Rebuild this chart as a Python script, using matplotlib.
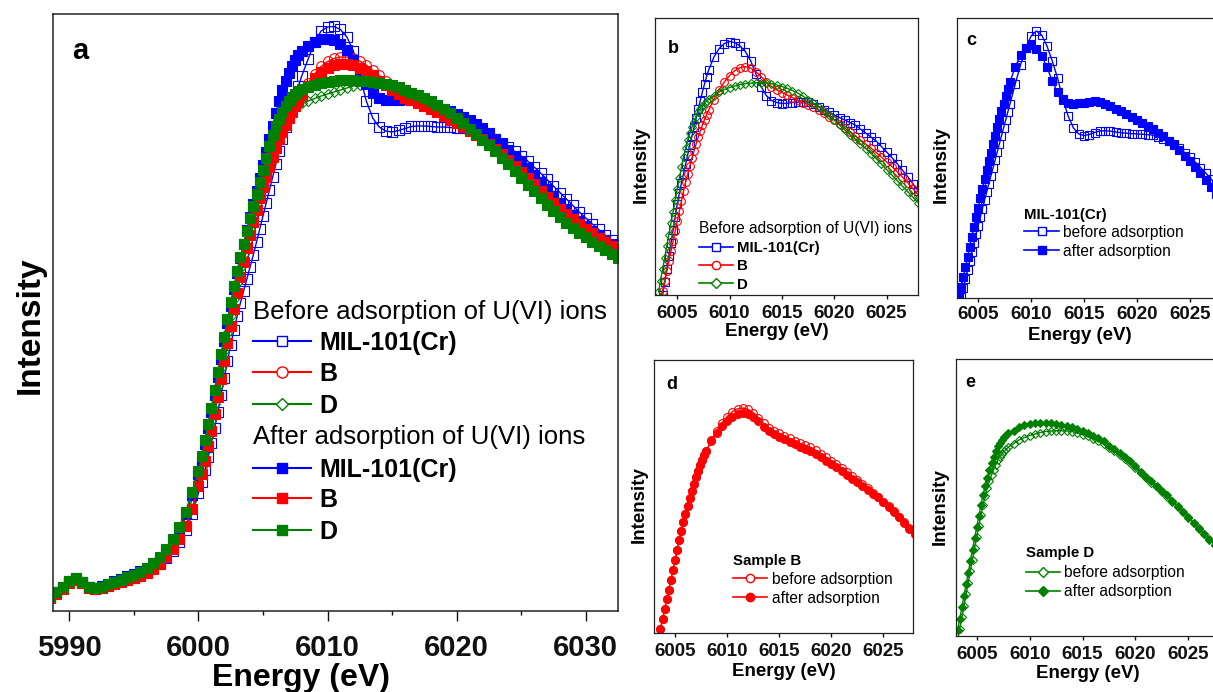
import numpy as np
import matplotlib
matplotlib.use("Agg")
import matplotlib.pyplot as plt
from matplotlib.lines import Line2D
from matplotlib.ticker import MultipleLocator

plt.rcParams['font.family'] = ['Liberation Sans', 'DejaVu Sans']

# ---------------- energy grids (eV) ----------------
energy_a = np.concatenate([np.linspace(5988.5, 5999.5, 23),
                           np.linspace(6000.0, 6008.0, 33),
                           np.linspace(6008.5, 6033.0, 50)])
energy_zoom = np.concatenate([np.linspace(6003.2, 6008.0, 25),
                              np.linspace(6008.5, 6028.0, 40)])

# ---------------- panel a: Cr K-edge XANES (arb. units) ----------------
mil_before_a = [0.14, 0.18, 0.23, 0.29, 0.325, 0.29, 0.24, 0.225, 0.235, 0.255, 0.275, 0.295,
                0.315, 0.335, 0.36, 0.39, 0.43, 0.475, 0.53, 0.60, 0.69, 0.81, 0.97,
                1.18, 1.29, 1.41, 1.54, 1.68, 1.83, 1.99, 2.16, 2.33, 2.50, 2.66, 2.81, 2.95,
                3.08, 3.20, 3.32, 3.44, 3.56, 3.69, 3.82, 3.95, 4.08, 4.21, 4.34, 4.47, 4.60,
                4.72, 4.84, 4.95, 5.05, 5.15, 5.25, 5.35,
                5.52, 5.69, 5.80, 5.84, 5.845, 5.815, 5.74, 5.60, 5.36, 5.10, 4.93, 4.84,
                4.80, 4.79, 4.805, 4.825, 4.845, 4.85, 4.85, 4.845, 4.84, 4.84, 4.835, 4.83,
                4.825, 4.815, 4.80, 4.78, 4.75, 4.72, 4.68, 4.64, 4.595, 4.55, 4.50, 4.44,
                4.38, 4.315, 4.25, 4.185, 4.12, 4.055, 3.99, 3.93, 3.87, 3.815, 3.76, 3.705,
                3.655, 3.605]
b_before_a = [0.13, 0.17, 0.22, 0.28, 0.315, 0.285, 0.235, 0.22, 0.23, 0.25, 0.27, 0.29,
              0.31, 0.33, 0.355, 0.385, 0.425, 0.475, 0.54, 0.62, 0.72, 0.85, 1.02,
              1.25, 1.37, 1.50, 1.65, 1.80, 1.97, 2.14, 2.32, 2.50, 2.68, 2.85, 3.02, 3.18,
              3.34, 3.49, 3.63, 3.76, 3.89, 4.01, 4.13, 4.24, 4.34, 4.44, 4.535, 4.63,
              4.715, 4.79, 4.86, 4.925, 4.985, 5.055, 5.115, 5.175,
              5.28, 5.37, 5.445, 5.495, 5.525, 5.54, 5.54, 5.525, 5.50, 5.46, 5.405, 5.355,
              5.305, 5.26, 5.22, 5.185, 5.145, 5.115, 5.085, 5.055, 5.025, 4.99, 4.94,
              4.905, 4.865, 4.825, 4.775, 4.735, 4.69, 4.64, 4.575, 4.51, 4.45, 4.39, 4.33,
              4.265, 4.20, 4.14, 4.08, 4.02, 3.965, 3.915, 3.865, 3.82, 3.775, 3.73, 3.69,
              3.65, 3.61, 3.57]
d_before_a = [0.15, 0.19, 0.24, 0.30, 0.33, 0.29, 0.24, 0.23, 0.245, 0.27, 0.29, 0.315,
              0.34, 0.36, 0.39, 0.42, 0.465, 0.52, 0.60, 0.70, 0.80, 0.93, 1.11,
              1.30, 1.44, 1.59, 1.74, 1.90, 2.07, 2.25, 2.43, 2.60, 2.78, 2.95, 3.12, 3.28,
              3.43, 3.57, 3.70, 3.82, 3.94, 4.06, 4.18, 4.29, 4.40, 4.51, 4.61, 4.70, 4.78,
              4.85, 4.91, 4.96, 5.00, 5.03, 5.055, 5.075,
              5.10, 5.125, 5.15, 5.17, 5.19, 5.21, 5.23, 5.25, 5.265, 5.28, 5.285,
              5.28, 5.27, 5.255, 5.235, 5.21, 5.185, 5.155, 5.125, 5.095, 5.06, 5.02, 4.975,
              4.925, 4.875, 4.82, 4.765, 4.71, 4.655, 4.595, 4.53, 4.465, 4.40, 4.33, 4.26,
              4.195, 4.13, 4.06, 3.995, 3.935, 3.88, 3.83, 3.78, 3.735, 3.69, 3.65, 3.61,
              3.57, 3.53, 3.49]
mil_after_a = [0.15, 0.19, 0.24, 0.30, 0.33, 0.29, 0.24, 0.23, 0.25, 0.275, 0.30, 0.325,
               0.35, 0.375, 0.40, 0.435, 0.48, 0.535, 0.61, 0.71, 0.82, 0.97, 1.16,
               1.37, 1.51, 1.67, 1.83, 1.99, 2.16, 2.34, 2.52, 2.70, 2.88, 3.05, 3.22, 3.38,
               3.53, 3.67, 3.81, 3.94, 4.07, 4.20, 4.33, 4.46, 4.59, 4.72, 4.85, 4.98, 5.10,
               5.21, 5.30, 5.38, 5.45, 5.51, 5.56, 5.60,
               5.65, 5.69, 5.72, 5.725, 5.71, 5.67, 5.61, 5.51, 5.39, 5.27, 5.18, 5.13, 5.11,
               5.105, 5.11, 5.115, 5.11, 5.095, 5.075, 5.055, 5.035, 5.015, 4.995, 4.97,
               4.94, 4.905, 4.87, 4.825, 4.775, 4.72, 4.665, 4.61, 4.55, 4.49, 4.425, 4.36,
               4.29, 4.22, 4.15, 4.08, 4.015, 3.955, 3.90, 3.85, 3.80, 3.755, 3.71, 3.665,
               3.62, 3.58]
b_after_a = [0.13, 0.17, 0.22, 0.28, 0.315, 0.285, 0.235, 0.22, 0.23, 0.25, 0.27, 0.29,
             0.31, 0.33, 0.355, 0.385, 0.425, 0.475, 0.54, 0.62, 0.72, 0.85, 1.02,
             1.25, 1.37, 1.50, 1.65, 1.80, 1.97, 2.14, 2.32, 2.50, 2.68, 2.85, 3.02, 3.18,
             3.34, 3.49, 3.63, 3.76, 3.89, 4.01, 4.13, 4.24, 4.34, 4.44, 4.535, 4.63,
             4.715, 4.79, 4.86, 4.925, 4.985, 5.045, 5.10, 5.155,
             5.25, 5.33, 5.395, 5.435, 5.46, 5.475, 5.475, 5.46, 5.435, 5.40, 5.355, 5.305,
             5.255, 5.21, 5.17, 5.135, 5.105, 5.075, 5.045, 5.015, 4.985, 4.95, 4.91,
             4.875, 4.835, 4.795, 4.755, 4.715, 4.67, 4.62, 4.565, 4.51, 4.45, 4.39, 4.33,
             4.265, 4.20, 4.14, 4.08, 4.02, 3.965, 3.915, 3.865, 3.82, 3.775, 3.73, 3.69,
             3.65, 3.61, 3.57]
d_after_a = [0.15, 0.19, 0.24, 0.30, 0.33, 0.29, 0.24, 0.23, 0.245, 0.27, 0.29, 0.315,
             0.34, 0.365, 0.395, 0.43, 0.48, 0.54, 0.62, 0.72, 0.84, 0.99, 1.19,
             1.40, 1.55, 1.71, 1.87, 2.03, 2.21, 2.39, 2.57, 2.74, 2.92, 3.09, 3.25, 3.40,
             3.54, 3.67, 3.80, 3.93, 4.05, 4.17, 4.29, 4.41, 4.53, 4.65, 4.76, 4.85, 4.92,
             4.99, 5.05, 5.10, 5.14, 5.17, 5.195, 5.215,
             5.24, 5.26, 5.275, 5.29, 5.30, 5.31, 5.31, 5.31, 5.305, 5.30, 5.29, 5.28, 5.27,
             5.255, 5.235, 5.21, 5.185, 5.155, 5.125, 5.095, 5.06, 5.02, 4.975, 4.925,
             4.875, 4.82, 4.765, 4.71, 4.655, 4.595, 4.53, 4.465, 4.40, 4.33, 4.26, 4.195,
             4.13, 4.06, 3.995, 3.935, 3.88, 3.83, 3.78, 3.735, 3.69, 3.65, 3.61, 3.57,
             3.53, 3.49]

# ---------------- panels b, d, e: edge region (arb. units) ----------------
mil_before_z = [-0.25, -0.12, 0.00, 0.13, 0.26, 0.39, 0.52, 0.65, 0.78, 0.91, 1.02, 1.12,
                1.215, 1.31, 1.405, 1.50, 1.59, 1.68, 1.77, 1.86, 1.945, 2.03, 2.11, 2.185,
                2.25,
                2.38, 2.465, 2.515, 2.535, 2.525, 2.49, 2.435, 2.345, 2.215, 2.085, 1.995,
                1.945, 1.925, 1.915, 1.917, 1.925, 1.93, 1.933, 1.93, 1.91, 1.885, 1.855,
                1.83, 1.80, 1.775, 1.75, 1.725, 1.70, 1.66, 1.62, 1.58, 1.54, 1.485, 1.43,
                1.375, 1.315, 1.25, 1.185, 1.115, 1.045]
b_before_z = [-0.16, -0.06, 0.04, 0.14, 0.24, 0.34, 0.44, 0.54, 0.64, 0.74, 0.84, 0.94,
              1.04, 1.13, 1.21, 1.29, 1.37, 1.44, 1.51, 1.58, 1.64, 1.70, 1.755, 1.805,
              1.85,
              1.955, 2.05, 2.13, 2.195, 2.245, 2.275, 2.283, 2.27, 2.235, 2.185, 2.13, 2.085,
              2.05, 2.025, 2.00, 1.975, 1.95, 1.925, 1.905, 1.885, 1.855, 1.82, 1.785, 1.75,
              1.71, 1.67, 1.63, 1.59, 1.55, 1.51, 1.47, 1.425, 1.38, 1.33, 1.285, 1.235,
              1.18, 1.125, 1.065, 1.005]
b_after_z = [-0.16, -0.06, 0.04, 0.14, 0.24, 0.34, 0.44, 0.54, 0.64, 0.74, 0.84, 0.94,
             1.04, 1.13, 1.21, 1.29, 1.37, 1.44, 1.51, 1.58, 1.64, 1.70, 1.755, 1.805,
             1.85,
             1.945, 2.03, 2.10, 2.155, 2.195, 2.225, 2.233, 2.22, 2.19, 2.15, 2.095, 2.05,
             2.015, 1.99, 1.965, 1.94, 1.915, 1.89, 1.87, 1.85, 1.82, 1.785, 1.75, 1.715,
             1.685, 1.645, 1.605, 1.565, 1.535, 1.495, 1.455, 1.41, 1.375, 1.325, 1.28,
             1.23, 1.175, 1.12, 1.06, 1.00]
d_before_z = [0.03, 0.145, 0.26, 0.375, 0.49, 0.605, 0.72, 0.835, 0.95, 1.06, 1.17, 1.28,
              1.38, 1.47, 1.55, 1.62, 1.68, 1.735, 1.785, 1.83, 1.865, 1.895, 1.92, 1.94,
              1.96,
              1.995, 2.03, 2.055, 2.075, 2.09, 2.105, 2.115, 2.12, 2.123, 2.123, 2.12, 2.115,
              2.10, 2.085, 2.067, 2.045, 2.02, 1.99, 1.955, 1.92, 1.885, 1.845, 1.80, 1.75,
              1.70, 1.65, 1.605, 1.56, 1.51, 1.465, 1.415, 1.365, 1.31, 1.255, 1.20, 1.145,
              1.09, 1.035, 0.98, 0.925]
d_after_z = [0.13, 0.245, 0.36, 0.475, 0.59, 0.705, 0.82, 0.935, 1.05, 1.16, 1.27, 1.38,
             1.48, 1.57, 1.65, 1.73, 1.80, 1.865, 1.925, 1.97, 2.005, 2.035, 2.06, 2.08,
             2.10,
             2.125, 2.16, 2.185, 2.195, 2.20, 2.205, 2.205, 2.20, 2.193, 2.183, 2.17, 2.16,
             2.14, 2.12, 2.097, 2.075, 2.05, 2.02, 1.975, 1.94, 1.905, 1.865, 1.82, 1.77,
             1.715, 1.665, 1.62, 1.575, 1.525, 1.48, 1.42, 1.37, 1.315, 1.26, 1.205, 1.15,
             1.095, 1.04, 0.985, 0.93]

# ---------------- panel c: MIL-101(Cr) before / after ----------------
mil_before_c = [-0.08, 0.01, 0.10, 0.19, 0.28, 0.37, 0.46, 0.55, 0.64, 0.725, 0.81, 0.895,
                0.98, 1.06, 1.14, 1.22, 1.30, 1.38, 1.46, 1.54, 1.62, 1.70, 1.78, 1.86, 1.94,
                2.14, 2.33, 2.50, 2.62, 2.67, 2.63, 2.52, 2.37, 2.20, 1.99, 1.82, 1.70, 1.64,
                1.625, 1.635, 1.655, 1.67, 1.673, 1.668, 1.66, 1.653, 1.648, 1.644, 1.641,
                1.638, 1.634, 1.628, 1.615, 1.595, 1.57, 1.54, 1.50, 1.455, 1.41, 1.36,
                1.305, 1.25, 1.19, 1.13, 1.07]
mil_after_c = [0.02, 0.115, 0.21, 0.31, 0.41, 0.51, 0.61, 0.71, 0.81, 0.905, 1.00, 1.095,
               1.19, 1.28, 1.37, 1.455, 1.54, 1.625, 1.71, 1.79, 1.87, 1.945, 2.02, 2.09,
               2.16,
               2.31, 2.43, 2.505, 2.53, 2.495, 2.42, 2.31, 2.17, 2.055, 1.985, 1.955, 1.945,
               1.947, 1.955, 1.963, 1.968, 1.963, 1.945, 1.92, 1.895, 1.87, 1.84, 1.81, 1.78,
               1.75, 1.72, 1.69, 1.655, 1.62, 1.575, 1.53, 1.48, 1.425, 1.37, 1.31, 1.25,
               1.185, 1.115, 1.045, 0.975]

ticks_a = [5990, 6000, 6010, 6020, 6030]
ticks_zoom = [6005, 6010, 6015, 6020, 6025]

BLUE, RED, GREEN = '#0000ff', '#ff0000', '#008000'

W, H = 1213, 692
fig = plt.figure(figsize=(W / 100, H / 100), dpi=100)


def fx(x):
    return x / W


def fy(y):
    return (H - y) / H


def axes_px(left, top, right, bottom):
    return fig.add_axes([left / W, (H - bottom) / H, (right - left) / W, (bottom - top) / H])


def style_axes(ax, xlim, ylim, ticks, fs, tick_len, pad, minor=None, spine_lw=1.0):
    ax.set_xlim(*xlim)
    ax.set_ylim(*ylim)
    ax.set_xticks(ticks)
    ax.set_xticklabels([str(t) for t in ticks], fontsize=fs, fontweight='bold')
    if minor:
        ax.xaxis.set_minor_locator(MultipleLocator(minor))
    ax.set_yticks([])
    ax.tick_params(axis='x', which='major', direction='out', length=tick_len,
                   width=1.0, pad=pad, colors='#111111')
    ax.tick_params(axis='x', which='minor', direction='out', length=tick_len * 0.45,
                   width=1.0)
    for s in ax.spines.values():
        s.set_linewidth(spine_lw)
        s.set_color('#222222')


def curve(ax, x, y, color, marker, filled, ms, lw=1.0, mew=0.8):
    ax.plot(x, y, color=color, lw=lw, marker=marker, ms=ms,
            mfc=color if filled else 'none', mec=color, mew=mew)


def legend_row(x0, x1, y, color, marker, filled, ms, label, fs, weight, tx, lw=1.5):
    fig.add_artist(Line2D([fx(x0), fx(x1)], [fy(y), fy(y)], transform=fig.transFigure,
                          color=color, lw=lw))
    fig.add_artist(Line2D([fx((x0 + x1) / 2)], [fy(y)], transform=fig.transFigure,
                          marker=marker, ms=ms, mfc=color if filled else 'white',
                          mec=color, mew=1.0, linestyle='none'))
    fig.text(fx(tx), fy(y + 0.36 * fs * 100 / 72), label, fontsize=fs,
             fontweight=weight, ha='left', va='baseline')


def header(x, y, label, fs, weight):
    fig.text(fx(x), fy(y + 0.36 * fs * 100 / 72), label, fontsize=fs,
             fontweight=weight, ha='left', va='baseline')


# ================= panel a =================
ax_a = axes_px(53.3, 14, 618.3, 611)
curve(ax_a, energy_a, mil_before_a, BLUE, 's', False, 7.0)
curve(ax_a, energy_a, b_before_a, RED, 'o', False, 7.0)
curve(ax_a, energy_a, d_before_a, GREEN, 'D', False, 5.4)
curve(ax_a, energy_a, mil_after_a, BLUE, 's', True, 7.0)
curve(ax_a, energy_a, b_after_a, RED, 's', True, 7.0)
curve(ax_a, energy_a, d_after_a, GREEN, 's', True, 7.0)
style_axes(ax_a, (5988.76, 6032.52), (0, 5.97), ticks_a, 21, 7, 9.5, minor=5, spine_lw=1.1)

fig.text(fx(71.7), fy(59.3), 'a', fontsize=21, fontweight='bold', ha='left', va='baseline')
fig.text(fx(301.5), fy(686), 'Energy (eV)', fontsize=23, fontweight='bold',
         ha='center', va='baseline')
fig.text(fx(30), fy(325), 'Intensity', fontsize=24, fontweight='bold',
         rotation=90, ha='center', va='center')

header(253.3, 310, 'Before adsorption of U(VI) ions', 18.5, 'normal')
legend_row(252.7, 310.7, 341, BLUE, 's', False, 7.5, 'MIL-101(Cr)', 18, 'bold', 319)
legend_row(252.7, 310.7, 371.7, RED, 'o', False, 8, 'B', 18, 'bold', 319)
legend_row(252.7, 310.7, 404, GREEN, 'D', False, 6, 'D', 18, 'bold', 319)
header(253.3, 435, 'After adsorption of U(VI) ions', 18.5, 'normal')
legend_row(252.7, 310.7, 468.3, BLUE, 's', True, 7.5, 'MIL-101(Cr)', 18, 'bold', 319)
legend_row(252.7, 310.7, 498.3, RED, 's', True, 7.5, 'B', 18, 'bold', 319)
legend_row(252.7, 310.7, 530, GREEN, 's', True, 7.5, 'D', 18, 'bold', 319)

# ================= panel b =================
ax_b = axes_px(655, 18, 918, 295)
curve(ax_b, energy_zoom, mil_before_z, BLUE, 's', False, 5.6)
curve(ax_b, energy_zoom, b_before_z, RED, 'o', False, 5.6)
curve(ax_b, energy_zoom, d_before_z, GREEN, 'D', False, 4.4)
style_axes(ax_b, (6002.87, 6028.0), (0, 2.77), ticks_zoom, 13.5, 3, 4.0, spine_lw=0.9)
fig.text(fx(668.3), fy(53.3), 'b', fontsize=13, fontweight='bold', ha='left', va='baseline')
header(699, 227.7, 'Before adsorption of U(VI) ions', 11.2, 'normal')
legend_row(699, 733, 246.7, BLUE, 's', False, 5.5, 'MIL-101(Cr)', 10.8, 'bold', 737.3, lw=1.2)
legend_row(699, 733, 265, RED, 'o', False, 6, 'B', 10.8, 'bold', 737.3, lw=1.2)
legend_row(699, 733, 283.3, GREEN, 'D', False, 4.6, 'D', 10.8, 'bold', 737.3, lw=1.2)

# ================= panel c =================
ax_c = axes_px(957, 18, 957 + 25 * 10.585, 298)
curve(ax_c, energy_zoom, mil_before_c, BLUE, 's', False, 5.6)
curve(ax_c, energy_zoom, mil_after_c, BLUE, 's', True, 5.6)
style_axes(ax_c, (6003.0, 6028.0), (0, 2.80), ticks_zoom, 13.5, 3, 3.0, spine_lw=0.9)
fig.text(fx(966.7), fy(45), 'c', fontsize=13, fontweight='bold', ha='left', va='baseline')
header(1024, 213.3, 'MIL-101(Cr)', 10.8, 'bold')
legend_row(1024, 1059.3, 231, BLUE, 's', False, 5.5, 'before adsorption', 11.2, 'normal', 1063.3, lw=1.2)
legend_row(1024, 1059.3, 250, BLUE, 's', True, 5.5, 'after adsorption', 11.2, 'normal', 1063.3, lw=1.2)

# ================= panel d =================
ax_d = axes_px(654, 360, 913, 633)
curve(ax_d, energy_zoom, b_before_z, RED, 'o', False, 5.6)
curve(ax_d, energy_zoom, b_after_z, RED, 'o', True, 5.6)
style_axes(ax_d, (6002.98, 6027.85), (0, 2.77), ticks_zoom, 13.5, 3, 4.0, spine_lw=0.9)
fig.text(fx(666.7), fy(389), 'd', fontsize=13, fontweight='bold', ha='left', va='baseline')
header(733.3, 560, 'Sample B', 10.8, 'bold')
legend_row(733.3, 766.7, 578.3, RED, 'o', False, 6, 'before adsorption', 11.2, 'normal', 771.7, lw=1.2)
legend_row(733.3, 766.7, 597.3, RED, 'o', True, 6, 'after adsorption', 11.2, 'normal', 771.7, lw=1.2)

# ================= panel e =================
ax_e = axes_px(956, 359, 956 + 25 * 10.58, 636)
curve(ax_e, energy_zoom, d_before_z, GREEN, 'D', False, 4.4)
curve(ax_e, energy_zoom, d_after_z, GREEN, 'D', True, 4.4)
style_axes(ax_e, (6003.04, 6028.04), (0.07, 2.84), ticks_zoom, 13.5, 3, 4.0, spine_lw=0.9)
fig.text(fx(965), fy(387.3), 'e', fontsize=13, fontweight='bold', ha='left', va='baseline')
header(1026, 551.7, 'Sample D', 10.8, 'bold')
legend_row(1026, 1060, 571.7, GREEN, 'D', False, 4.6, 'before adsorption', 11.2, 'normal', 1064, lw=1.2)
legend_row(1026, 1060, 590.7, GREEN, 'D', True, 4.6, 'after adsorption', 11.2, 'normal', 1064, lw=1.2)

# axis titles of the small panels
for (x, y) in [(777, 331), (1079.5, 336), (784, 671), (1087.5, 674)]:
    fig.text(fx(x), fy(y), 'Energy (eV)', fontsize=13.5, fontweight='bold',
             ha='center', va='center')
for (x, y) in [(641.7, 165), (941.7, 165), (639.3, 505), (940.7, 506.7)]:
    fig.text(fx(x), fy(y), 'Intensity', fontsize=13.5, fontweight='bold',
             rotation=90, ha='center', va='center')

fig.savefig('out.png', dpi=100)
